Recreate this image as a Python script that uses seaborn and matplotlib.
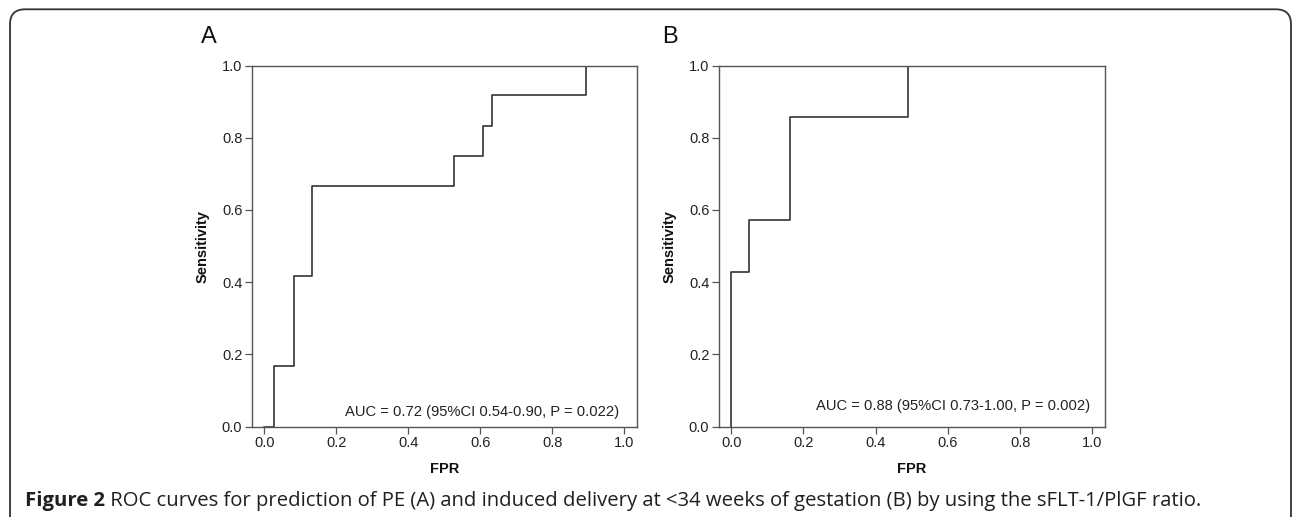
import numpy as np
import pandas as pd
import matplotlib
matplotlib.use('Agg')
import matplotlib.pyplot as plt
import seaborn as sns
from matplotlib.patches import FancyBboxPatch
from matplotlib.transforms import IdentityTransform

# ROC step points (FPR, sensitivity)
fpr_a = [0.0, 0.028, 0.082, 0.133, 0.528, 0.607, 0.632, 0.894, 1.0]
sens_a = [0.0, 0.167, 0.417, 0.667, 0.750, 0.833, 0.917, 1.0, 1.0]
fpr_b = [0.0, 0.0, 0.048, 0.163, 0.489, 1.0]
sens_b = [0.0, 0.429, 0.571, 0.857, 1.0, 1.0]

panel_names = ['A', 'B']
auc_labels = ['AUC = 0.72 (95%CI 0.54-0.90, P = 0.022)',
              'AUC = 0.88 (95%CI 0.73-1.00, P = 0.002)']
tick_vals = [0.0, 0.2, 0.4, 0.6, 0.8, 1.0]
caption_bold = 'Figure 2'
caption_rest = (' ROC curves for prediction of PE (A) and induced delivery at <34 weeks '
                'of gestation (B) by using the sFLT-1/PlGF ratio.')

W, H = 1292, 517
sns.set_style('ticks')
plt.rcParams['font.family'] = ['Liberation Sans', 'DejaVu Sans']

fig = plt.figure(figsize=(W / 100, H / 100), dpi=100)

# axes boxes in pixels: left, right, top, bottom
boxes = [(252, 637, 65.5, 426.7), (719, 1105, 65.5, 426.7)]
letter_x = [209, 670]
ylabel_x = [203, 670]
auc_pos = [(0.984, 0.042), (0.995, 0.057)]
curves = [(fpr_a, sens_a), (fpr_b, sens_b)]

spine_col = '#555555'
for i, (l, r, t, b) in enumerate(boxes):
    ax = fig.add_axes([l / W, 1 - b / H, (r - l) / W, (b - t) / H])
    df = pd.DataFrame({'FPR': curves[i][0], 'Sensitivity': curves[i][1]})
    sns.lineplot(data=df, x='FPR', y='Sensitivity', ax=ax, estimator=None,
                 sort=False, drawstyle='steps-post', color='#333333',
                 linewidth=1.2)
    ax.set_xlim(-0.034, 1.035)
    ax.set_ylim(0, 1)
    ax.set_xticks(tick_vals)
    ax.set_yticks(tick_vals)
    ax.set_xticklabels([f'{v:.1f}' for v in tick_vals])
    ax.set_yticklabels([f'{v:.1f}' for v in tick_vals])
    ax.tick_params(direction='out', length=5, width=0.9, pad=2,
                   color=spine_col, labelsize=10.5, labelcolor='#222222')
    for s in ax.spines.values():
        s.set_visible(True)
        s.set_color(spine_col)
        s.set_linewidth(1.0)
    ax.set_xlabel('FPR', fontsize=10.5, fontweight='bold', color='#111111')
    ax.set_ylabel('Sensitivity', fontsize=10.5, fontweight='bold', color='#111111')
    ax.xaxis.label.set_va('center')
    ax.yaxis.label.set_va('center')
    ax.xaxis.set_label_coords(0.5, (b - 469) / (b - t))
    ax.yaxis.set_label_coords((ylabel_x[i] - l) / (r - l), 0.5)
    ax.text(auc_pos[i][0], auc_pos[i][1], auc_labels[i], ha='right', va='center',
            fontsize=10.6, color='#222222')
    fig.text(letter_x[i] / W, 1 - 36.7 / H, panel_names[i], ha='center',
             va='center', fontsize=17, color='#111111')

# caption, bold lead then regular text
cap_font = ['Open Sans', 'DejaVu Sans']
cy = 1 - 501 / H
t1 = fig.text(25 / W, cy, caption_bold, ha='left', va='center', fontsize=14.6,
              fontweight='bold', family=cap_font, color='#231f20')
fig.canvas.draw()
bb = t1.get_window_extent()
fig.text(bb.x1 / W, cy, caption_rest, ha='left', va='center', fontsize=14.6,
         family=cap_font, color='#231f20')

# rounded frame around the figure
frame = FancyBboxPatch((10, -40), 1281, 507.7 + 40,
                       boxstyle='round,pad=0,rounding_size=15',
                       transform=IdentityTransform(), fill=False,
                       edgecolor='#333333', linewidth=1.3)
fig.patches.append(frame)

fig.savefig('out.png', dpi=100)
